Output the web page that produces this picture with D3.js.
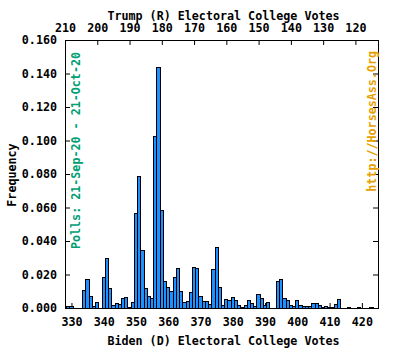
<!DOCTYPE html>
<html>
<head>
<meta charset="utf-8">
<script src="https://cdn.jsdelivr.net/npm/d3@7"></script>
<style>
  body { margin: 0; background: #fff; }
  text { font-family: "DejaVu Sans Mono", "Liberation Mono", monospace; font-weight: bold; }
</style>
</head>
<body>
<div id="chart"></div>
<script>
// Biden electoral votes and simulated frequency
const bidenEV = d3.range(328, 425);
const frequency = [
  0, 0.0008, 0.0006, 0, 0, 0, 0.0107, 0.0172, 0.0071, 0.0008,
  0.0030, 0, 0.0182, 0.0295, 0.0119, 0.0016, 0.0028, 0.0022, 0.0057, 0.0063,
  0.0004, 0.0030, 0.0564, 0.0788, 0.0345, 0.0119, 0.0071, 0.0055, 0.1026, 0.1437,
  0.0580, 0.0160, 0.0125, 0.0101, 0.0184, 0.0238, 0.0101, 0.0030, 0.0036, 0.0095,
  0.0244, 0.0236, 0.0069, 0.0036, 0.0040, 0.0023, 0.0230, 0.0360, 0.0122, 0.0017,
  0.0052, 0.0044, 0.0064, 0.0042, 0.0017, 0.0002, 0.0017, 0.0046, 0.0029, 0.0011,
  0.0082, 0.0058, 0.0017, 0.0034, 0, 0, 0.0158, 0.0170, 0.0057, 0.0045,
  0.0016, 0.0010, 0.0045, 0.0016, 0.0006, 0.0010, 0.0010, 0.0027, 0.0027, 0.0016,
  0.0004, 0.0010, 0.0003, 0.0004, 0.0023, 0.0052, 0, 0, 0.0003, 0,
  0, 0.0003, 0, 0, 0, 0.0002, 0
];
const bidenTicks = [330, 340, 350, 360, 370, 380, 390, 400, 410, 420];
const trumpTicks = [210, 200, 190, 180, 170, 160, 150, 140, 130, 120];
const yTicks = [0, 0.02, 0.04, 0.06, 0.08, 0.1, 0.12, 0.14, 0.16];
const totalEV = 538;

const data = bidenEV.map((ev, i) => ({ ev: ev, freq: frequency[i] }));

const width = 400, height = 350;
const margin = { left: 65, right: 22, top: 40, bottom: 42 };
const tickLen = 5;

const svg = d3.select("#chart").append("svg")
  .attr("width", width)
  .attr("height", height);

const x = d3.scaleLinear()
  .domain([328, 425])
  .range([margin.left, width - margin.right]);

const y = d3.scaleLinear()
  .domain([0, 0.16])
  .range([height - margin.bottom, margin.top]);

const x0 = margin.left, x1 = width - margin.right;
const y0 = height - margin.bottom, y1 = margin.top;

// axes (ticks point inward like gnuplot)
const fmt = d3.format(".3f");
const axisL = svg.append("g").attr("transform", `translate(${x0},0)`)
  .call(d3.axisLeft(y).tickValues(yTicks).tickFormat(fmt).tickSizeInner(-tickLen).tickSizeOuter(0).tickPadding(8));
const axisR = svg.append("g").attr("transform", `translate(${x1},0)`)
  .call(d3.axisRight(y).tickValues(yTicks).tickFormat("").tickSizeInner(-tickLen).tickSizeOuter(0));
const axisB = svg.append("g").attr("transform", `translate(0,${y0})`)
  .call(d3.axisBottom(x).tickValues(bidenTicks).tickFormat(d3.format("d")).tickSizeInner(-tickLen).tickSizeOuter(0).tickPadding(10));
const axisT = svg.append("g").attr("transform", `translate(0,${y1})`)
  .call(d3.axisTop(x).tickValues(trumpTicks.map(t => totalEV - t)).tickFormat(d => totalEV - d).tickSizeInner(-tickLen).tickSizeOuter(0).tickPadding(8.5));

[axisL, axisR, axisB, axisT].forEach(g => {
  g.select(".domain").remove();
  g.selectAll("line").attr("stroke", "#000");
  g.selectAll("text").attr("font-size", "11.7px").attr("fill", "#000")
    .attr("font-family", "DejaVu Sans Mono").attr("font-weight", "bold");
});

// bars
const bw = x(1) - x(0);
svg.append("g")
  .selectAll("rect")
  .data(data)
  .join("rect")
  .attr("x", d => x(d.ev) - bw / 2)
  .attr("width", bw)
  .attr("y", d => y(d.freq))
  .attr("height", d => y(0) - y(d.freq))
  .attr("fill", "#1e90ff")
  .attr("stroke", "#000")
  .attr("stroke-width", 1)
  .attr("shape-rendering", "crispEdges");

// border
svg.append("rect")
  .attr("x", x0).attr("y", y1)
  .attr("width", x1 - x0).attr("height", y0 - y1)
  .attr("fill", "none").attr("stroke", "#000")
  .attr("shape-rendering", "crispEdges");

// axis titles
svg.append("text")
  .attr("x", (x0 + x1) / 2 + 2).attr("y", 20)
  .attr("text-anchor", "middle").attr("font-size", "11.7px")
  .text("Trump (R) Electoral College Votes");
svg.append("text")
  .attr("x", (x0 + x1) / 2 + 2).attr("y", 345)
  .attr("text-anchor", "middle").attr("font-size", "11.7px")
  .text("Biden (D) Electoral College Votes");
svg.append("text")
  .attr("transform", "translate(16,175) rotate(-90)")
  .attr("text-anchor", "middle").attr("font-size", "11.7px")
  .text("Frequency");

// labels inside the plot
svg.append("text")
  .attr("transform", `translate(80,${y1 + 12}) rotate(-90)`)
  .attr("text-anchor", "end").attr("font-size", "11.7px")
  .attr("fill", "#009e73")
  .text("Polls: 21-Sep-20 - 21-Oct-20");
svg.append("text")
  .attr("transform", `translate(376,${y1 + 11}) rotate(-90)`)
  .attr("text-anchor", "end").attr("font-size", "11.7px")
  .attr("fill", "#e69f00")
  .text("http://HorsesAss.Org");
</script>
</body>
</html>
